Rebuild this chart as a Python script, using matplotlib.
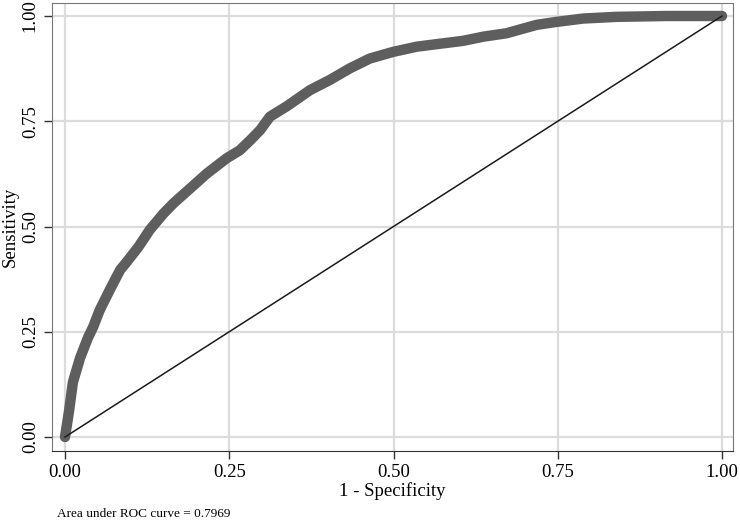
import matplotlib
matplotlib.use("Agg")
import matplotlib.pyplot as plt

# ROC 曲线上读出的点(1 - 特异度, 灵敏度)
fpr = [0.0, 0.006, 0.012, 0.023, 0.035, 0.043, 0.053, 0.068, 0.084, 0.094,
       0.112, 0.129, 0.150, 0.165, 0.188, 0.216, 0.246, 0.266, 0.282, 0.297,
       0.312, 0.337, 0.373, 0.403, 0.434, 0.464, 0.50, 0.535, 0.570, 0.606,
       0.637, 0.672, 0.718, 0.748, 0.789, 0.84, 0.916, 1.0]
tpr = [0.0, 0.06, 0.13, 0.188, 0.236, 0.262, 0.302, 0.349, 0.397, 0.416,
       0.452, 0.492, 0.531, 0.555, 0.587, 0.626, 0.662, 0.681, 0.705, 0.729,
       0.761, 0.785, 0.824, 0.848, 0.876, 0.899, 0.915, 0.927, 0.934, 0.941,
       0.951, 0.959, 0.979, 0.986, 0.994, 0.998, 1.0, 1.0]
ticks = [0.0, 0.25, 0.5, 0.75, 1.0]
tick_labels = ["0.00", "0.25", "0.50", "0.75", "1.00"]
auc = 0.7969

plt.rcParams["font.family"] = ["Liberation Serif", "DejaVu Serif"]

fig = plt.figure(figsize=(7.4, 5.23), dpi=100)
ax = fig.add_axes([52 / 740, 1 - 451 / 523, 681 / 740, 448 / 523])

ax.grid(True, color="#dcdcdc", linewidth=1.6)
ax.set_axisbelow(True)

ax.plot(fpr, tpr, color="#5e5e5e", linewidth=7.5,
        solid_capstyle="round", solid_joinstyle="round", zorder=3)
ax.plot([0, 1], [0, 1], color="#1a1a1a", linewidth=1.1, zorder=4)

ax.set_xlim(-13 / 657, 1 + 11 / 657)
ax.set_ylim(-14 / 421, 1 + 13 / 421)
ax.set_xticks(ticks)
ax.set_xticklabels(tick_labels)
ax.set_yticks(ticks)
ax.set_yticklabels(tick_labels, rotation=90, va="center")
ax.tick_params(labelsize=13.5, length=6, width=1, color="#333333")

for side in ("top", "right", "left"):
    ax.spines[side].set_color("#777777")
ax.spines["bottom"].set_color("#333333")

ax.set_xlabel("1 - Specificity", fontsize=13.5, labelpad=1)
ax.set_ylabel("Sensitivity", fontsize=13.5, labelpad=2)

fig.text(57 / 740, 1 - 517 / 523, f"Area under ROC curve = {auc:.4f}",
         fontsize=9.5, ha="left", va="baseline")

fig.savefig("out.png", dpi=100)
